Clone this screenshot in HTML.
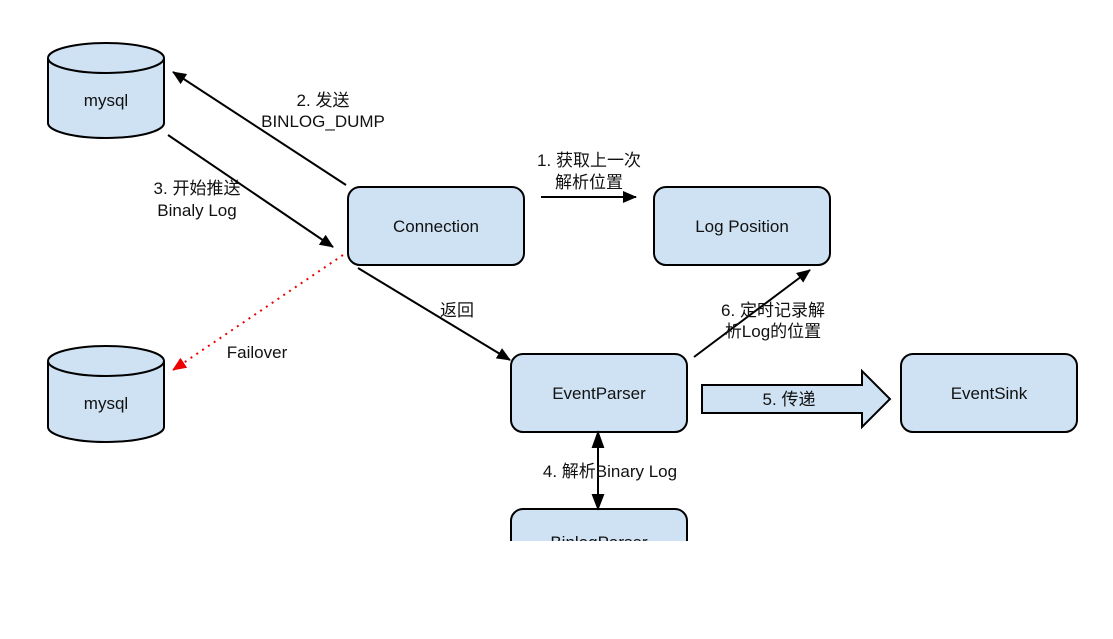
<!DOCTYPE html>
<html><head><meta charset="utf-8"><style>
html,body{margin:0;padding:0;background:#fff;}
svg{display:block;}
text{font-family:"Liberation Sans","Noto Sans CJK SC",sans-serif;font-size:17px;fill:#111;}
</style></head><body>
<svg width="1113" height="639" viewBox="0 0 1113 639">
<defs>
<marker id="a" markerWidth="14" markerHeight="12" refX="13" refY="6" orient="auto" markerUnits="userSpaceOnUse"><path d="M0,0 L14,6 L0,12 z" fill="#000"/></marker>
<marker id="r" markerWidth="14" markerHeight="12" refX="13" refY="6" orient="auto" markerUnits="userSpaceOnUse"><path d="M0,0 L14,6 L0,12 z" fill="#e00"/></marker>
<clipPath id="c"><rect x="0" y="0" width="1113" height="541"/></clipPath>
</defs>
<g stroke="#000" stroke-width="2" fill="#cfe2f3">
<path d="M48,58 V123 A58,15 0 0 0 164,123 V58"/>
<ellipse cx="106" cy="58" rx="58" ry="15"/>
<path d="M48,361 V427 A58,15 0 0 0 164,427 V361"/>
<ellipse cx="106" cy="361" rx="58" ry="15"/>
<rect x="348" y="187" width="176" height="78" rx="12"/>
<rect x="654" y="187" width="176" height="78" rx="12"/>
<rect x="511" y="354" width="176" height="78" rx="12"/>
<rect x="901" y="354" width="176" height="78" rx="12"/>
<rect x="511" y="509" width="176" height="78" rx="12" clip-path="url(#c)"/>
<path d="M702,385 H862 V371 L890,399 L862,427 V413 H702 Z"/>
</g>
<g stroke="#000" stroke-width="2" fill="none">
<line x1="346" y1="185" x2="173" y2="72" marker-end="url(#a)"/>
<line x1="168" y1="135" x2="333" y2="247" marker-end="url(#a)"/>
<line x1="358" y1="268" x2="510" y2="360" marker-end="url(#a)"/>
<line x1="541" y1="197" x2="636" y2="197" marker-end="url(#a)"/>
<line x1="694" y1="357" x2="810" y2="270" marker-end="url(#a)"/>
<line x1="598" y1="445" x2="598" y2="497" />
<path d="M593,447 L598,433 L603,447 Z M593,495 L598,508 L603,495 Z" fill="#000"/>
<line x1="343" y1="255" x2="173" y2="370" stroke="#e00" stroke-dasharray="2,5" marker-end="url(#r)"/>
</g>
<g text-anchor="middle">
<text x="106" y="106">mysql</text>
<text x="106" y="409">mysql</text>
<text x="436" y="232">Connection</text>
<text x="742" y="232">Log Position</text>
<text x="599" y="399">EventParser</text>
<text x="989" y="399">EventSink</text>
<text x="599" y="548" clip-path="url(#c)">BinlogParser</text>
<text x="323" y="106">2. 发送</text>
<text x="323" y="127">BINLOG_DUMP</text>
<text x="197" y="194">3. 开始推送</text>
<text x="197" y="216">Binaly Log</text>
<text x="589" y="166">1.  获取上一次</text>
<text x="589" y="188">解析位置</text>
<text x="457" y="316">返回</text>
<text x="257" y="358">Failover</text>
<text x="773" y="316">6. 定时记录解</text>
<text x="773" y="337">析Log的位置</text>
<text x="789" y="405">5. 传递</text>
<text x="610" y="477">4. 解析Binary Log</text>
</g>
</svg>
</body></html>
